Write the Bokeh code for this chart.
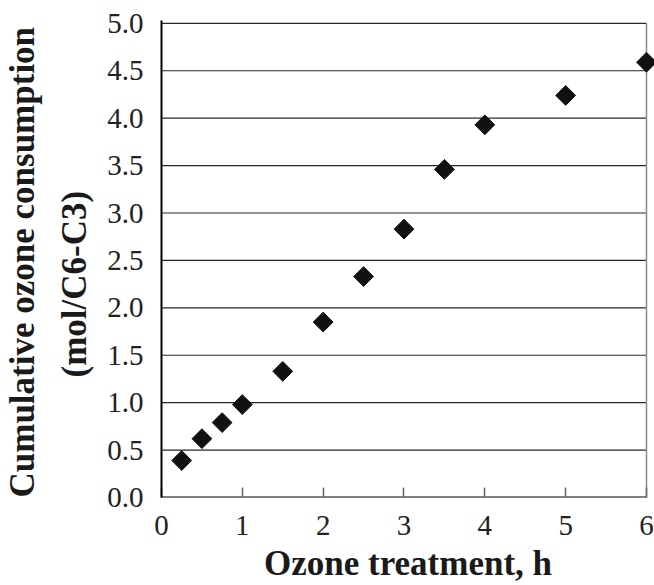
import math
from bokeh.plotting import figure
from bokeh.models import Range1d, FixedTicker, Title
from bokeh.embed import file_html
from bokeh.resources import INLINE

# Ozone treatment time (h) and cumulative ozone consumption (mol/C6-C3)
hours = [0.25, 0.5, 0.75, 1.0, 1.5, 2.0, 2.5, 3.0, 3.5, 4.0, 5.0, 6.0]
ozone = [0.39, 0.62, 0.79, 0.98, 1.33, 1.85, 2.33, 2.83, 3.46, 3.93, 4.24, 4.59]

x_ticks = [0, 1, 2, 3, 4, 5, 6]
y_ticks = [0.0, 0.5, 1.0, 1.5, 2.0, 2.5, 3.0, 3.5, 4.0, 4.5, 5.0]
y_labels = {t: f"{t:.1f}" for t in y_ticks}

x_title = "Ozone treatment, h"
y_title_lines = ["Cumulative ozone consumption", "(mol/C6-C3)"]

FONT = "Liberation Serif"
TITLE_SIZE = "35px"

p = figure(
    width=654, height=585,
    output_backend="svg", toolbar_location=None,
    x_range=Range1d(0, 6.099), y_range=Range1d(0, 5.03),
    min_border_left=160, min_border_right=0,
    min_border_top=20, min_border_bottom=88,
)
p.outline_line_color = None
p.background_fill_color = "white"
p.border_fill_color = "white"
p.xgrid.visible = False
p.ygrid.visible = False

# horizontal gridlines spanning the data extent only
p.segment(x0=x_ticks[0], x1=x_ticks[-1], y0=y_ticks[1:], y1=y_ticks[1:],
          line_color="#2a2a2a", line_width=1.2)
# right-hand border of the plot area
p.segment(x0=x_ticks[-1], x1=x_ticks[-1], y0=y_ticks[0], y1=y_ticks[-1],
          line_color="#8a8a8a", line_width=1.5)
# bottom axis line, ending at the last tick
p.segment(x0=x_ticks[0], x1=x_ticks[-1], y0=y_ticks[0], y1=y_ticks[0],
          line_color="black", line_width=2)

p.scatter(hours, ozone, marker="square", size=14, angle=math.pi / 4,
          fill_color="#111111", line_color="#111111")

xa = p.xaxis[0]
xa.ticker = FixedTicker(ticks=x_ticks)
xa.axis_line_color = None
xa.major_tick_in = 10
xa.major_tick_out = 0
xa.major_tick_line_color = "#666666"
xa.major_tick_line_width = 1.5
xa.minor_tick_line_color = None
xa.major_label_text_font = FONT
xa.major_label_text_font_size = "29px"
xa.major_label_text_color = "#222222"
xa.major_label_standoff = 18
xa.axis_label = x_title
xa.axis_label_text_font = FONT
xa.axis_label_text_font_style = "bold"
xa.axis_label_text_font_size = TITLE_SIZE
xa.axis_label_text_color = "#1a1a1a"
xa.axis_label_standoff = 6

ya = p.yaxis[0]
ya.ticker = FixedTicker(ticks=y_ticks)
ya.major_label_overrides = y_labels
ya.axis_line_color = "black"
ya.axis_line_width = 2
ya.major_tick_in = 0
ya.major_tick_out = 0
ya.minor_tick_line_color = None
ya.major_label_text_font = FONT
ya.major_label_text_font_size = "29px"
ya.major_label_text_color = "#222222"
ya.major_label_standoff = 18

# two-line y title: the second line sits next to the axis, the first outside it
for text, offset, standoff in [(y_title_lines[1], 120, 21), (y_title_lines[0], 0, 1)]:
    p.add_layout(Title(
        text=text, align="left", offset=offset, standoff=standoff,
        text_font=FONT, text_font_size=TITLE_SIZE, text_font_style="bold",
        text_color="#1a1a1a",
    ), "left")

open("out.html", "w").write(file_html(p, INLINE))
